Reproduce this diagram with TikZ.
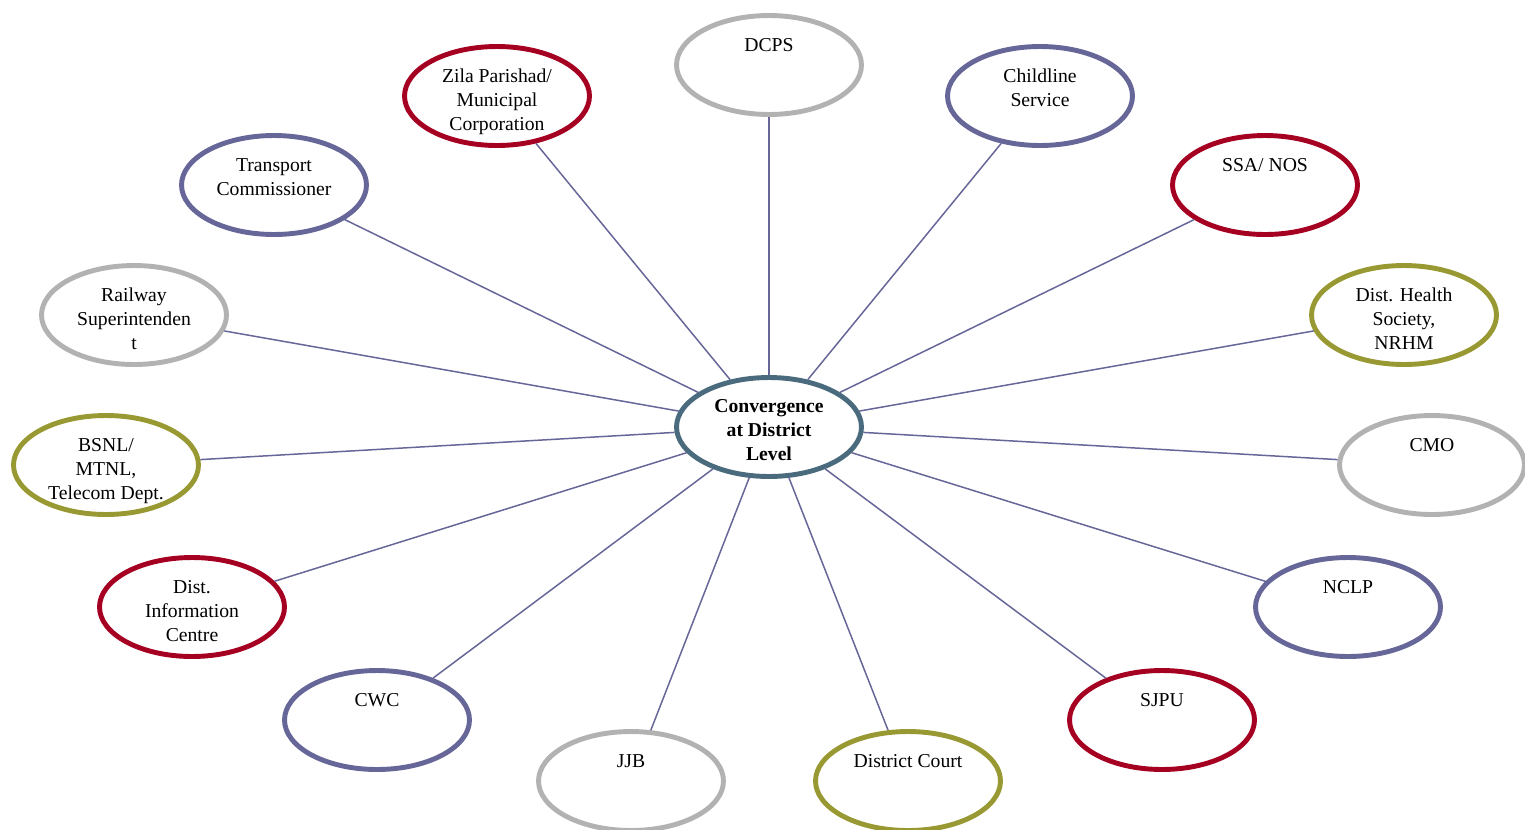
\documentclass[tikz,border=0pt]{standalone}
\usepackage{fontspec}
\setmainfont{Liberation Serif}
\usetikzlibrary{shapes.geometric}

\definecolor{wine}{HTML}{A50021}
\definecolor{slate}{HTML}{666699}
\definecolor{ash}{HTML}{B2B2B2}
\definecolor{moss}{HTML}{999933}
\definecolor{steel}{HTML}{4A6B7D}

\newcommand{\toplines}[1]{\begin{tabular}[t]{@{}c@{}}#1\end{tabular}}

\begin{document}
\begin{tikzpicture}[x=0.02cm,y=-0.02cm]
			\tikzstyle{every node}=[font=\fontsize{11.2}{13.7}\selectfont]
			\tikzstyle{agency}=[ellipse, line width=2.8pt, fill=white, minimum width=3.7cm, minimum height=1.98cm, inner sep=0pt, text height=0.3cm, text depth=0.86cm]
			\tikzstyle{link}=[slate, line width=0.85pt]

			\useasboundingbox (0,0) rectangle (1525,829);

			\node[agency, draw=ash] (DCPS) at (769, 65) {DCPS};
			\node[agency, draw=wine] (ZP) at (497, 96) {\toplines{Zila Parishad/\\Municipal\\Corporation}};
			\node[agency, draw=slate] (CL) at (1040, 96) {\toplines{Childline\\Service}};
			\node[agency, draw=slate] (TC) at (274, 185) {\toplines{Transport\\Commissioner}};
			\node[agency, draw=wine] (SSA) at (1265, 185) {SSA/ NOS};
			\node[agency, draw=ash] (RS) at (134, 315) {\toplines{Railway\\Superintenden\\t}};
			\node[agency, draw=moss] (DHS) at (1404, 315) {\toplines{Dist. Health\\Society,\\NRHM}};
			\node[agency, draw=moss] (BSNL) at (106, 465) {\toplines{BSNL/\\MTNL,\\Telecom Dept.}};
			\node[agency, draw=ash] (CMO) at (1432, 465) {CMO};
			\node[agency, draw=wine] (DIC) at (192, 607) {\toplines{Dist.\\Information\\Centre}};
			\node[agency, draw=slate] (NCLP) at (1348, 607) {NCLP};
			\node[agency, draw=slate] (CWC) at (377, 720) {CWC};
			\node[agency, draw=wine] (SJPU) at (1162, 720) {SJPU};
			\node[agency, draw=ash] (JJB) at (631, 781) {JJB};
			\node[agency, draw=moss] (DC) at (908, 781) {District Court};

			\node[agency, draw=steel, text depth=0.9cm, font=\fontsize{11.2}{13.7}\selectfont\bfseries] (CDL) at (769, 427) {\toplines{Convergence\\at District\\Level}};

			\path[link]
				(CDL) edge (DCPS)
				(CDL) edge (ZP)
				(CDL) edge (CL)
				(CDL) edge (TC)
				(CDL) edge (SSA)
				(CDL) edge (RS)
				(CDL) edge (DHS)
				(CDL) edge (BSNL)
				(CDL) edge (CMO)
				(CDL) edge (DIC)
				(CDL) edge (NCLP)
				(CDL) edge (CWC)
				(CDL) edge (SJPU)
				(CDL) edge (JJB)
				(CDL) edge (DC);
		\end{tikzpicture}
\end{document}
